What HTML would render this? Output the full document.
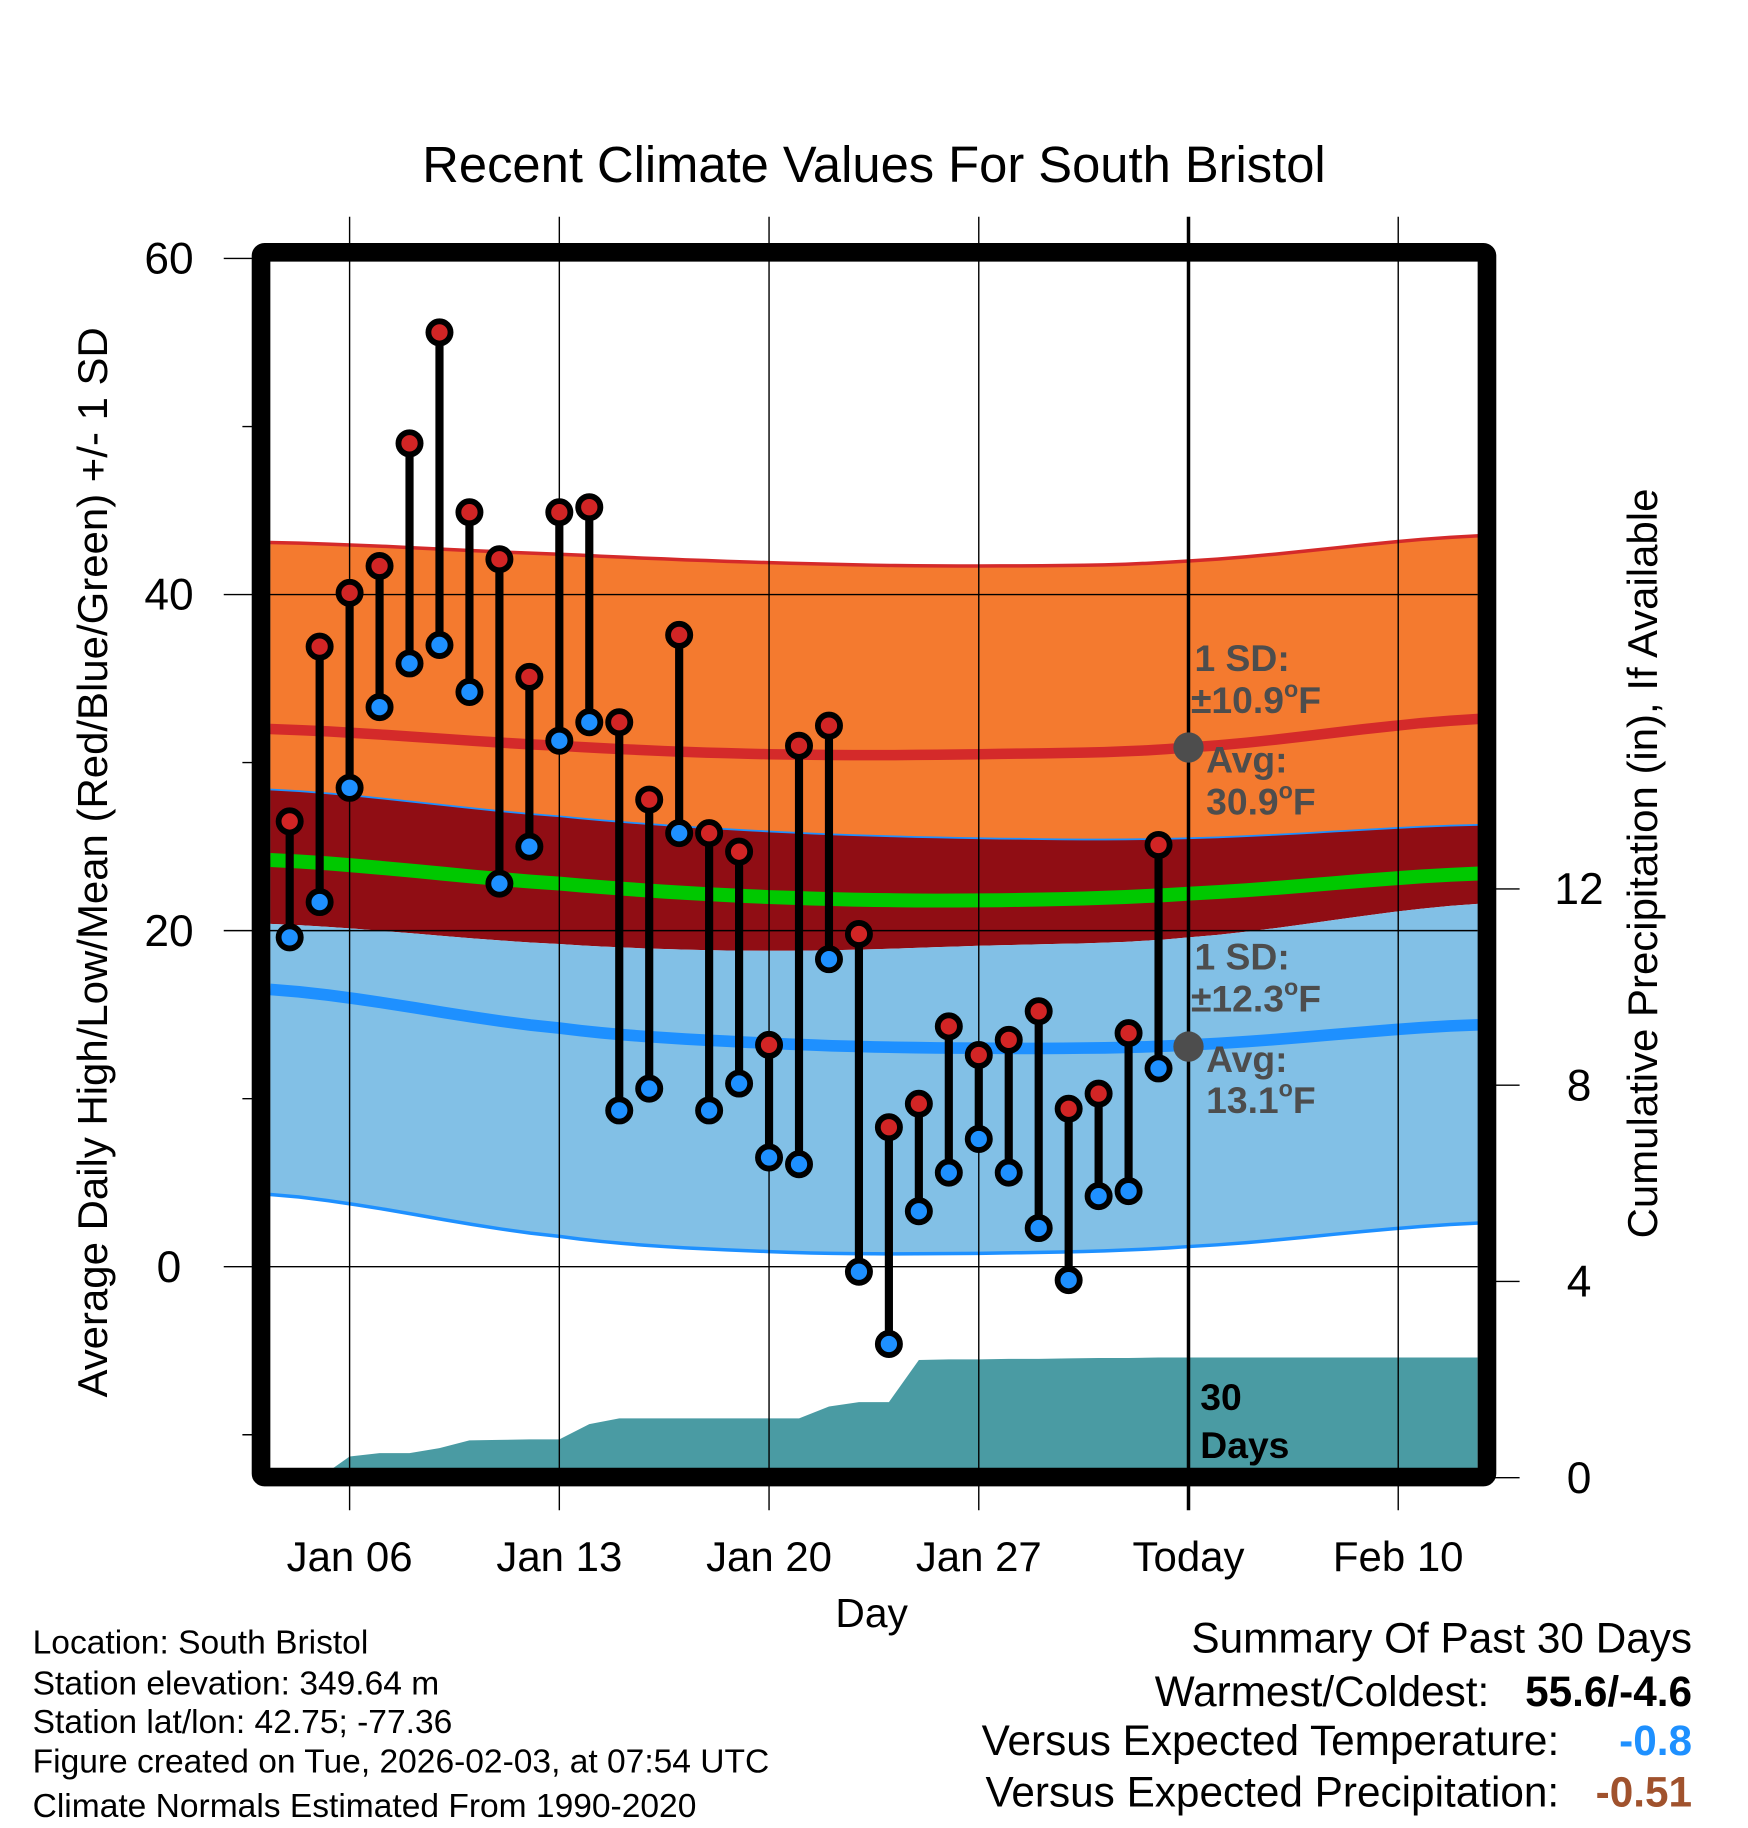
<!DOCTYPE html>
<html><head><meta charset="utf-8"><style>
html,body{margin:0;padding:0;background:#fff;}
svg{display:block;font-family:"Liberation Sans",Arial,sans-serif;}
</style></head><body>
<svg id="chart" xmlns="http://www.w3.org/2000/svg" width="1748" height="1828" viewBox="0 0 1500 1568.65">
<rect width="1500" height="1568.65" fill="#fff"/>
<g id="bands"></g>
<g id="precip"></g>
<g id="grid"></g>
<g id="marks"></g>
<g id="ann"></g>
<rect x="224" y="216.5" width="1052" height="1051" fill="none" stroke="#000" stroke-width="16" rx="3"/>
<text x="750" y="156" font-size="43.5" text-anchor="middle">Recent Climate Values For South Bristol</text>
<g id="axes"></g>
<text x="748" y="1396" font-size="35" text-anchor="middle">Day</text>
<text transform="translate(92,740) rotate(-90)" font-size="36" text-anchor="middle">Average Daily High/Low/Mean (Red/Blue/Green) +/- 1 SD</text>
<text transform="translate(1422,741) rotate(-90)" font-size="36" text-anchor="middle">Cumulative Precipitation (in), If Available</text>
<g font-size="28.8">
<text x="28" y="1419">Location: South Bristol</text>
<text x="28" y="1454">Station elevation: 349.64 m</text>
<text x="28" y="1487">Station lat/lon: 42.75; -77.36</text>
<text x="28" y="1521">Figure created on Tue, 2026-02-03, at 07:54 UTC</text>
<text x="28" y="1559">Climate Normals Estimated From 1990-2020</text>
</g>
<g font-size="36.3">
<text x="1452" y="1418" text-anchor="end">Summary Of Past 30 Days</text>
<text x="1278" y="1464" text-anchor="end">Warmest/Coldest:</text>
<text x="1452" y="1464" text-anchor="end" font-weight="bold">55.6/-4.6</text>
<text x="1338" y="1506" text-anchor="end">Versus Expected Temperature:</text>
<text x="1452" y="1506" text-anchor="end" font-weight="bold" fill="#1e90ff">-0.8</text>
<text x="1338" y="1550" text-anchor="end">Versus Expected Precipitation:</text>
<text x="1452" y="1550" text-anchor="end" font-weight="bold" fill="#a0522d">-0.51</text>
</g>
</svg>
<script>
// ---- data ----
const days = [4,5,6,7,8,9,10,11,12,13,14,15,16,17,18,19,20,21,22,23,24,25,26,27,28,29,30,31,32,33];
const highs = [26.5,36.9,40.1,41.7,49.0,55.6,44.9,42.1,35.1,44.9,45.2,32.4,27.8,37.6,25.8,24.7,13.2,31.0,32.2,19.8,8.3,9.7,14.3,12.6,13.5,15.2,9.4,10.3,13.9,25.1];
const lows = [19.6,21.7,28.5,33.3,35.9,37.0,34.2,22.8,25.0,31.3,32.4,9.3,10.6,25.8,9.3,10.9,6.5,6.1,18.3,-0.3,-4.6,3.3,5.6,7.6,5.6,2.3,-0.8,4.2,4.5,11.8];
const precipDays = [4,5,6,7,8,9,10,11,12,13,14,15,16,17,18,19,20,21,22,23,24,25,26,27,28,29,30,31,32,33,34,43.7];
const precipVals = [0,0,0.43,0.5,0.5,0.6,0.76,0.77,0.78,0.78,1.09,1.21,1.21,1.21,1.21,1.21,1.21,1.21,1.45,1.54,1.54,2.4,2.41,2.41,2.42,2.42,2.43,2.44,2.44,2.45,2.45,2.45];
const normDays = [3.35,13,20,27,34,43.7];
const hiUpper = [43.1,42.4,41.9,41.7,42.0,43.5];
const hiAvg = [32.0,31.0,30.5,30.5,30.9,32.6];
const hiLower = [28.4,26.8,25.9,25.5,25.5,26.3];
const meanAvg = [24.2,22.8,22.0,21.8,22.2,23.4];
const loUpper = [20.4,19.2,18.8,19.1,19.6,21.6];
const loAvg = [16.5,14.2,13.3,13.0,13.2,14.4];
const loLower = [4.3,1.8,0.9,0.8,1.2,2.6];
const yTicks = [60,40,20,0];
const yMinor = [50,30,10,-10];
const y2Ticks = [0,4,8,12];
const xTickDays = [6,13,20,27,34,41];
const xTickLabels = ["Jan 06","Jan 13","Jan 20","Jan 27","Today","Feb 10"];

// ---- scales ----
const X0=232,X1=1268,Y0=224,Y1=1260;
const xs = d => 300 + (d-6)*25.71;
const ys = t => 1087 - t*14.42;
const yp = p => 1268 - p*42.1;
const NS='http://www.w3.org/2000/svg';
function el(tag, attrs, parent){const e=document.createElementNS(NS,tag);for(const k in attrs)e.setAttribute(k,attrs[k]);parent.appendChild(e);return e;}

function curve(vals){
  const pts=[];
  for(let i=0;i<normDays.length-1;i++){
    const p0=vals[Math.max(i-1,0)],p1=vals[i],p2=vals[i+1],p3=vals[Math.min(i+2,vals.length-1)];
    for(let s=0;s<10;s++){const t=s/10;
      const v=0.5*((2*p1)+(-p0+p2)*t+(2*p0-5*p1+4*p2-p3)*t*t+(-p0+3*p1-3*p2+p3)*t*t*t);
      pts.push([xs(normDays[i]+(normDays[i+1]-normDays[i])*t), ys(v)]);}
  }
  pts.push([xs(normDays[normDays.length-1]), ys(vals[vals.length-1])]);
  return pts;
}
const line = pts => pts.map((p,i)=>(i?'L':'M')+p[0].toFixed(1)+','+p[1].toFixed(1)).join('');
function band(a,b,fill,name){
  const A=curve(a),B=curve(b).reverse();
  const p=el('path',{d:line(A)+line(B).replace('M','L')+'Z',fill:fill},document.getElementById('bands'));
  
  
}
band(hiUpper,hiLower,'#f47a2f','high-sd-band');
band(hiLower,loUpper,'#900d14','overlap-band');
band(loUpper,loLower,'#82c0e6','low-sd-band');
const bg=document.getElementById('bands');
let e;
e=el('path',{d:line(curve(hiUpper)),fill:'none',stroke:'#d42a2a','stroke-width':3},bg);

e=el('path',{d:line(curve(hiLower)),fill:'none',stroke:'#1e90ff','stroke-width':1.5},bg);

e=el('path',{d:line(curve(loLower)),fill:'none',stroke:'#1e90ff','stroke-width':3},bg);

e=el('path',{d:line(curve(hiAvg)),fill:'none',stroke:'#d42a2a','stroke-width':9},bg);

e=el('path',{d:line(curve(meanAvg)),fill:'none',stroke:'#00c800','stroke-width':12},bg);

e=el('path',{d:line(curve(loAvg)),fill:'none',stroke:'#1e90ff','stroke-width':10},bg);


// precip
const pg=document.getElementById('precip');
let pd='M'+xs(precipDays[0])+','+yp(0);
precipDays.forEach((d,i)=>{pd+='L'+xs(d).toFixed(1)+','+yp(precipVals[i]).toFixed(1);});
pd+='L'+X1+','+yp(precipVals[precipVals.length-1]).toFixed(1)+'L'+X1+','+Y1+'L'+xs(precipDays[0])+','+Y1+'Z';
e=el('path',{d:pd,fill:'#4a9ba3'},pg);



// grid
const gg=document.getElementById('grid');
xTickDays.forEach((d,i)=>{
  const x=xs(d);
  e=el('line',{x1:x,x2:x,y1:186,y2:1296,stroke:'#000','stroke-width':i==4?3:1.2},gg);
  
});
yTicks.forEach(t=>{
  e=el('line',{x1:192,x2:X1,y1:ys(t),y2:ys(t),stroke:'#000','stroke-width':1.2},gg);
  
});
yMinor.forEach(t=>{
  e=el('line',{x1:208,x2:224,y1:ys(t),y2:ys(t),stroke:'#000','stroke-width':1.2},gg);
  
});
y2Ticks.forEach(p=>{
  e=el('line',{x1:1276,x2:1304,y1:yp(p),y2:yp(p),stroke:'#000','stroke-width':1.2},gg);
  
});

// marks
const mg=document.getElementById('marks');
days.forEach((d,i)=>{
  const x=xs(d);
  e=el('line',{x1:x,x2:x,y1:ys(highs[i]),y2:ys(lows[i]),stroke:'#000','stroke-width':7},mg);
  
  e=el('circle',{cx:x,cy:ys(highs[i]),r:9.5,fill:'#d22525',stroke:'#000','stroke-width':5},mg);
  
  e=el('circle',{cx:x,cy:ys(lows[i]),r:9.5,fill:'#1e90ff',stroke:'#000','stroke-width':5},mg);
  
});

// annotations
const ag=document.getElementById('ann');
ag.innerHTML=`<g font-size="32" font-weight="bold" fill="#4d4d4d">
<text x="1025" y="576">1 SD:</text><text x="1022" y="612">±10.9<tspan font-size="20" dy="-14">o</tspan><tspan dy="14">F</tspan></text>
<text x="1035" y="663">Avg:</text><text x="1035" y="699">30.9<tspan font-size="20" dy="-14">o</tspan><tspan dy="14">F</tspan></text>
<text x="1025" y="832">1 SD:</text><text x="1022" y="868">±12.3<tspan font-size="20" dy="-14">o</tspan><tspan dy="14">F</tspan></text>
<text x="1035" y="920">Avg:</text><text x="1035" y="955">13.1<tspan font-size="20" dy="-14">o</tspan><tspan dy="14">F</tspan></text>
</g>
<circle cx="${xs(34)}" cy="${ys(30.9)}" r="13" fill="#4d4d4d"/>
<circle cx="${xs(34)}" cy="${ys(13.1)}" r="13" fill="#4d4d4d"/>
<g font-size="32" font-weight="bold" fill="#000"><text x="1030" y="1210">30</text><text x="1030" y="1251">Days</text></g>`;
ag.querySelectorAll('text,circle').forEach(n=>{
  
  
});

// axis labels
const axg=document.getElementById('axes');
yTicks.forEach(t=>{
  e=el('text',{x:145,y:ys(t)+13,'font-size':38,'text-anchor':'middle'},axg);e.textContent=t;
  
});
y2Ticks.forEach(p=>{
  e=el('text',{x:1355,y:yp(p)+13,'font-size':38,'text-anchor':'middle'},axg);e.textContent=p;
  
});
xTickDays.forEach((d,i)=>{
  e=el('text',{x:xs(d),y:1348,'font-size':36,'text-anchor':'middle'},axg);e.textContent=xTickLabels[i];
  
});
</script>
</body></html>
